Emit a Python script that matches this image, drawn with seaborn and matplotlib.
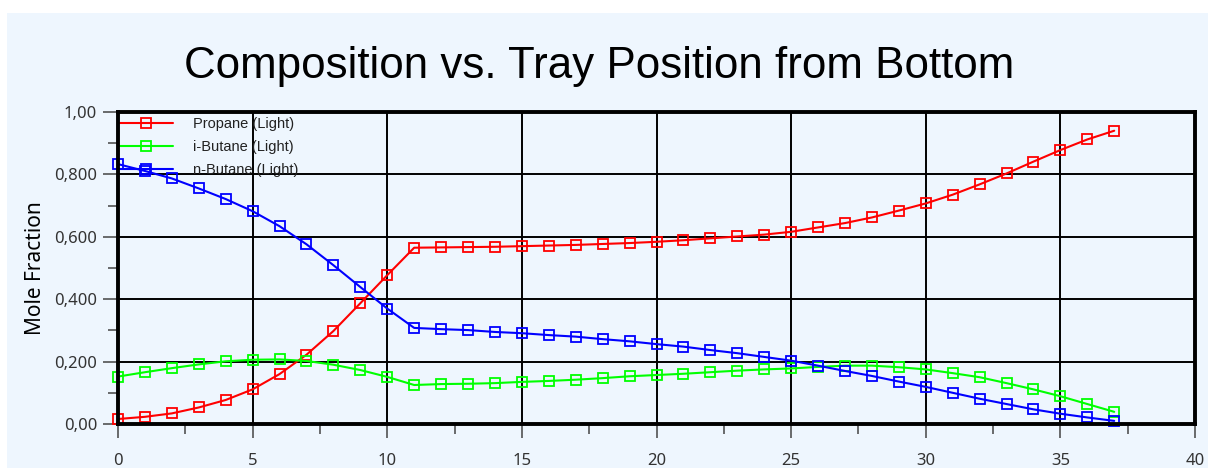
import numpy as np
import pandas as pd
import matplotlib
matplotlib.use("Agg")
import matplotlib.pyplot as plt
import seaborn as sns
from matplotlib.patches import Rectangle
from matplotlib.ticker import MultipleLocator

# tray position from bottom
trays = list(range(38))

propane = [0.016, 0.023, 0.034, 0.053, 0.077, 0.111, 0.160, 0.222, 0.298, 0.387,
           0.477, 0.565, 0.566, 0.567, 0.568, 0.570, 0.572, 0.574, 0.577, 0.580,
           0.584, 0.589, 0.595, 0.601, 0.607, 0.616, 0.630, 0.644, 0.662, 0.684,
           0.707, 0.735, 0.768, 0.803, 0.841, 0.878, 0.912, 0.940]
ibutane = [0.152, 0.166, 0.179, 0.191, 0.201, 0.206, 0.207, 0.202, 0.190, 0.173,
           0.151, 0.125, 0.128, 0.129, 0.131, 0.135, 0.138, 0.142, 0.147, 0.153,
           0.157, 0.161, 0.166, 0.171, 0.175, 0.178, 0.183, 0.187, 0.187, 0.182,
           0.175, 0.163, 0.150, 0.131, 0.111, 0.089, 0.064, 0.039]
nbutane = [0.833, 0.811, 0.787, 0.755, 0.721, 0.682, 0.634, 0.576, 0.509, 0.439,
           0.370, 0.308, 0.304, 0.301, 0.295, 0.291, 0.285, 0.280, 0.272, 0.265,
           0.256, 0.248, 0.237, 0.227, 0.215, 0.203, 0.187, 0.170, 0.154, 0.136,
           0.119, 0.100, 0.081, 0.064, 0.047, 0.033, 0.021, 0.010]

labels = ["Propane (Light)", "i-Butane (Light)", "n-Butane (Light)"]
colors = ["#FF0000", "#00FF00", "#0000FF"]
ytick_vals = [0.0, 0.2, 0.4, 0.6, 0.8, 1.0]
ytick_labels = ["0,00", "0,200", "0,400", "0,600", "0,800", "1,00"]

df = pd.DataFrame({
    "Tray": trays * 3,
    "Mole Fraction": propane + ibutane + nbutane,
    "Component": [labels[0]] * 38 + [labels[1]] * 38 + [labels[2]] * 38,
})

sns.set_style("ticks")
plt.rcParams["font.family"] = ["Noto Sans", "DejaVu Sans"]

bg = "#EEF6FE"
fig = plt.figure(figsize=(12.08, 4.68), dpi=100)
fig.patch.set_facecolor("white")
fig.patches.append(Rectangle((7 / 1208, 0), 1, 1 - 13 / 468, transform=fig.transFigure,
                             facecolor=bg, edgecolor="none", zorder=-10))

ax = fig.add_axes([118 / 1208, 44 / 468, 1077 / 1208, 312 / 468])
ax.set_facecolor("none")

for lab, c in zip(labels, colors):
    sns.lineplot(data=df[df["Component"] == lab], x="Tray", y="Mole Fraction",
                 color=c, lw=1.5, marker="s", markersize=7, markerfacecolor="none",
                 markeredgecolor=c, markeredgewidth=1.3, label=lab, ax=ax,
                 clip_on=False, zorder=5)

ax.set_xlim(0, 40)
ax.set_ylim(0, 1.0)
ax.xaxis.set_major_locator(MultipleLocator(5))
ax.xaxis.set_minor_locator(MultipleLocator(2.5))
ax.yaxis.set_minor_locator(MultipleLocator(0.1))
ax.set_yticks(ytick_vals)
ax.set_yticklabels(ytick_labels)
ax.grid(which="major", color="black", lw=1.4)

for s in ax.spines.values():
    s.set_visible(True)
    s.set_linewidth(2.8)
    s.set_color("black")
    s.set_zorder(6)

ax.tick_params(axis="y", which="major", length=11, width=1.1, pad=4, labelsize=12,
               color="#444444", labelcolor="#333333")
ax.tick_params(axis="y", which="minor", length=7, width=1.1, color="#444444")
ax.tick_params(axis="x", which="major", length=10, width=1.1, pad=11, labelsize=12,
               color="#444444", labelcolor="#333333")
ax.tick_params(axis="x", which="minor", length=7, width=1.1, color="#444444")

ax.set_xlabel("")
ax.set_ylabel("Mole Fraction", fontsize=15, labelpad=6, color="black")

leg = ax.legend(loc="upper left", bbox_to_anchor=(0, 0.983), frameon=False, borderaxespad=0,
                borderpad=0, handlelength=3.8, handletextpad=1.35, labelspacing=0.62,
                prop={"family": "Liberation Sans", "size": 10.5})
for t in leg.get_texts():
    t.set_color("#222222")

fig.text(0.496, 1 - 67 / 468, "Composition vs. Tray Position from Bottom",
         ha="center", va="center", fontsize=31.6, family="Liberation Sans", color="black")

fig.savefig("out.png", dpi=100)
